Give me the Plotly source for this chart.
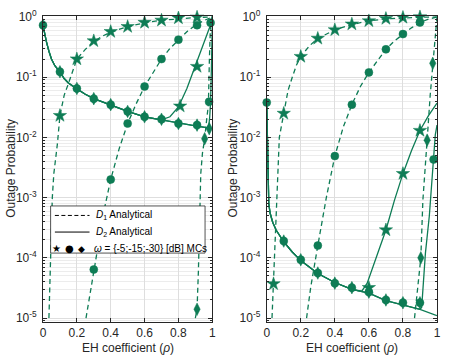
import plotly.graph_objects as go

GREEN = "#0E7C55"
TXT = "#262626"

# ---------------- left panel : analytical curves ----------------
l_d1_w5_rho = [0.035, 0.045, 0.055, 0.064, 0.075, 0.085, 0.1, 0.125, 0.15, 0.175, 0.2, 0.25, 0.3, 0.35, 0.4, 0.5, 0.6, 0.7, 0.8, 0.9, 1.0]
l_d1_w5_op = [1e-5, 1e-4, 1e-3, 2.5e-3, 4.5e-3, 7.8e-3, 0.023, 0.05, 0.078, 0.13, 0.2, 0.29, 0.39, 0.48, 0.56, 0.69, 0.8, 0.88, 0.94, 0.98, 1.0]

l_d1_w15_rho = [0.254, 0.27, 0.3, 0.33, 0.36, 0.4, 0.45, 0.5, 0.55, 0.6, 0.65, 0.7, 0.75, 0.8, 0.85, 0.9, 0.95, 1.0]
l_d1_w15_op = [1e-5, 1.9e-5, 6.4e-5, 2.1e-4, 6e-4, 2e-3, 6.5e-3, 0.017, 0.036, 0.07, 0.12, 0.2, 0.3, 0.42, 0.57, 0.73, 0.87, 1.0]

l_d1_w30_rho = [0.90, 0.91, 0.918, 0.925, 0.932, 0.942, 0.955, 0.967, 0.977, 0.983, 0.99, 1.0]
l_d1_w30_op = [1e-5, 1.4e-5, 6e-5, 4e-4, 2.5e-3, 5.5e-3, 9.5e-3, 0.02, 0.035, 0.2, 0.85, 1.0]

l_d2_w30_rho = [0.0, 0.01, 0.02, 0.035, 0.05, 0.07, 0.1, 0.125, 0.15, 0.2, 0.25, 0.3, 0.4, 0.5, 0.6, 0.7, 0.8, 0.9, 1.0]
l_d2_w30_op = [0.73, 0.52, 0.39, 0.27, 0.2, 0.155, 0.122, 0.095, 0.08, 0.064, 0.052, 0.044, 0.034, 0.027, 0.022, 0.0195, 0.0172, 0.0155, 0.014]

l_d2_w15_rho = [0.0, 0.01, 0.02, 0.035, 0.05, 0.07, 0.1, 0.125, 0.15, 0.2, 0.25, 0.3, 0.4, 0.5, 0.6, 0.7, 0.8, 0.9, 0.97, 0.98, 0.985, 0.99, 0.995, 1.0]
l_d2_w15_op = [0.73, 0.52, 0.39, 0.27, 0.2, 0.155, 0.122, 0.095, 0.08, 0.064, 0.052, 0.044, 0.034, 0.027, 0.022, 0.0195, 0.0172, 0.0155, 0.0145, 0.016, 0.022, 0.039, 0.15, 0.8]

l_d2_w5_rho = [0.0, 0.01, 0.02, 0.035, 0.05, 0.07, 0.1, 0.125, 0.15, 0.2, 0.25, 0.3, 0.4, 0.5, 0.6, 0.7, 0.75, 0.8, 0.85, 0.9, 0.95, 1.0]
l_d2_w5_op = [0.73, 0.52, 0.39, 0.27, 0.2, 0.155, 0.122, 0.095, 0.08, 0.064, 0.052, 0.044, 0.034, 0.027, 0.022, 0.0195, 0.022, 0.032, 0.065, 0.15, 0.37, 0.88]

# ---------------- left panel : Monte Carlo points ----------------
l_mc_d1_w5_rho = [0.1, 0.2, 0.3, 0.4, 0.5, 0.6, 0.7, 0.8, 0.91]
l_mc_d1_w5_op = [0.023, 0.2, 0.40, 0.57, 0.69, 0.81, 0.88, 0.96, 0.99]
l_mc_d1_w15_rho = [0.3, 0.4, 0.5, 0.6, 0.7, 0.8, 0.91, 0.99]
l_mc_d1_w15_op = [6.4e-5, 2.0e-3, 0.017, 0.07, 0.2, 0.42, 0.73, 0.8]
l_mc_d1_w30_rho = [0.91, 0.955]
l_mc_d1_w30_op = [1.4e-5, 0.0095]
l_mc_d2_w5_rho = [0.81, 0.91]
l_mc_d2_w5_op = [0.033, 0.15]
l_mc_d2_w15_rho = [0, 0.1, 0.2, 0.3, 0.4, 0.5, 0.6, 0.7, 0.8, 0.91, 0.981]
l_mc_d2_w15_op = [0.73, 0.123, 0.065, 0.044, 0.035, 0.027, 0.022, 0.020, 0.017, 0.016, 0.039]
l_mc_d2_w30_rho = [0, 0.1, 0.2, 0.3, 0.4, 0.5, 0.6, 0.7, 0.8, 0.91, 0.982]
l_mc_d2_w30_op = [0.73, 0.123, 0.065, 0.044, 0.035, 0.027, 0.022, 0.020, 0.017, 0.016, 0.014]

# ---------------- right panel : analytical curves ----------------
r_d1_w5_rho = [0.031, 0.039, 0.051, 0.058, 0.064, 0.074, 0.1, 0.125, 0.15, 0.175, 0.2, 0.25, 0.3, 0.4, 0.5, 0.6, 0.7, 0.8, 0.9, 1.0]
r_d1_w5_op = [1e-5, 3.7e-5, 2e-4, 8e-4, 2.5e-3, 0.01, 0.025, 0.06, 0.1, 0.16, 0.22, 0.33, 0.44, 0.61, 0.75, 0.86, 0.93, 0.97, 0.99, 1.0]

r_d1_w15_rho = [0.234, 0.258, 0.3, 0.35, 0.4, 0.45, 0.5, 0.55, 0.6, 0.65, 0.7, 0.75, 0.8, 0.85, 0.9, 0.95, 1.0]
r_d1_w15_op = [1e-5, 3.2e-5, 1.6e-4, 1e-3, 4.9e-3, 0.015, 0.035, 0.07, 0.12, 0.19, 0.29, 0.4, 0.52, 0.66, 0.81, 0.92, 1.0]

r_d1_w30_rho = [0.868, 0.885, 0.905, 0.917, 0.93, 0.942, 0.96, 0.975, 0.99, 1.0]
r_d1_w30_op = [1e-5, 3e-5, 1e-4, 9e-4, 3.5e-3, 9e-3, 0.05, 0.17, 0.6, 1.0]

r_d2_w30_rho = [0.0, 0.003, 0.006, 0.012, 0.02, 0.035, 0.055, 0.083, 0.1, 0.15, 0.2, 0.3, 0.4, 0.5, 0.6, 0.7, 0.8, 0.9, 1.0]
r_d2_w30_op = [0.038, 0.01, 2.5e-3, 8e-4, 5.5e-4, 3.9e-4, 2.9e-4, 2.2e-4, 1.85e-4, 1.25e-4, 9e-5, 5.5e-5, 3.9e-5, 3.0e-5, 2.6e-5, 1.95e-5, 1.65e-5, 1.4e-5, 1.1e-5]

r_d2_w15_rho = [0.0, 0.003, 0.006, 0.012, 0.02, 0.035, 0.055, 0.083, 0.1, 0.15, 0.2, 0.3, 0.4, 0.5, 0.6, 0.7, 0.8, 0.9, 0.91, 0.917, 0.932, 0.955, 0.981, 0.99, 1.0]
r_d2_w15_op = [0.038, 0.01, 2.5e-3, 8e-4, 5.5e-4, 3.9e-4, 2.9e-4, 2.2e-4, 1.85e-4, 1.25e-4, 9e-5, 5.5e-5, 3.9e-5, 3.0e-5, 2.6e-5, 1.95e-5, 1.65e-5, 1.4e-5, 1.5e-5, 2.8e-5, 1.2e-4, 5e-4, 4.3e-3, 0.011, 0.016]

r_d2_w5_rho = [0.0, 0.003, 0.006, 0.012, 0.02, 0.035, 0.055, 0.083, 0.1, 0.15, 0.2, 0.3, 0.4, 0.5, 0.558, 0.59, 0.616, 0.635, 0.655, 0.7, 0.75, 0.8, 0.85, 0.9, 0.95, 1.0]
r_d2_w5_op = [0.038, 0.01, 2.5e-3, 8e-4, 5.5e-4, 3.9e-4, 2.9e-4, 2.2e-4, 1.85e-4, 1.25e-4, 9e-5, 5.5e-5, 3.9e-5, 3.0e-5, 2.8e-5, 3.8e-5, 6e-5, 9e-5, 1.26e-4, 2.9e-4, 9e-4, 2.5e-3, 6e-3, 0.013, 0.023, 0.037]

# ---------------- right panel : Monte Carlo points ----------------
r_mc_d1_w5_rho = [0.04, 0.1, 0.2, 0.3, 0.4, 0.5, 0.6, 0.7, 0.8, 0.9]
r_mc_d1_w5_op = [3.7e-5, 0.025, 0.22, 0.44, 0.61, 0.76, 0.86, 0.94, 0.98, 1.0]
r_mc_d1_w15_rho = [0.3, 0.4, 0.5, 0.6, 0.7, 0.8, 0.9]
r_mc_d1_w15_op = [1.6e-4, 4.9e-3, 0.035, 0.12, 0.29, 0.52, 0.81]
r_mc_d1_w30_rho = [0.905, 0.942, 0.975]
r_mc_d1_w30_op = [1e-4, 9e-3, 0.17]
r_mc_d2_w5_rho = [0.6, 0.7, 0.8, 0.9]
r_mc_d2_w5_op = [3.2e-5, 2.9e-4, 2.5e-3, 0.013]
r_mc_d2_w15_rho = [0.0, 0.1, 0.2, 0.3, 0.4, 0.5, 0.6, 0.7, 0.8, 0.9, 0.98]
r_mc_d2_w15_op = [0.038, 1.9e-4, 9.3e-5, 5.6e-5, 3.8e-5, 3.2e-5, 2.7e-5, 2.0e-5, 1.8e-5, 1.8e-5, 4.3e-3]
r_mc_d2_w30_rho = [0.1, 0.2, 0.3, 0.4, 0.5, 0.6, 0.7, 0.8, 0.9]
r_mc_d2_w30_op = [1.9e-4, 9.3e-5, 5.6e-5, 3.8e-5, 3.2e-5, 2.7e-5, 2.0e-5, 1.8e-5, 1.8e-5]

y_ticks = [1e-5, 1e-4, 1e-3, 1e-2, 1e-1, 1]
y_ticktext = ["10<sup>-5</sup>", "10<sup>-4</sup>", "10<sup>-3</sup>", "10<sup>-2</sup>", "10<sup>-1</sup>", "10<sup>0</sup>"]
x_ticks = [0, 0.2, 0.4, 0.6, 0.8, 1]
x_ticktext = ["0", "0.2", "0.4", "0.6", "0.8", "1"]

DASH = "5px,3.5px"


def line(x, y, dash, ax):
    return go.Scatter(x=x, y=y, mode="lines", line=dict(color=GREEN, width=1.3, dash=dash),
                      xaxis="x" + ax, yaxis="y" + ax, showlegend=False, hoverinfo="skip")


def marks(x, y, sym, size, ax):
    return go.Scatter(x=x, y=y, mode="markers", cliponaxis=False,
                      marker=dict(symbol=sym, size=size, color=GREEN, line=dict(color=GREEN, width=0.5)),
                      xaxis="x" + ax, yaxis="y" + ax, showlegend=False)


fig = go.Figure()

# left
for x, y, d in [(l_d1_w5_rho, l_d1_w5_op, DASH), (l_d1_w15_rho, l_d1_w15_op, DASH), (l_d1_w30_rho, l_d1_w30_op, DASH),
                (l_d2_w5_rho, l_d2_w5_op, "solid"), (l_d2_w15_rho, l_d2_w15_op, "solid"), (l_d2_w30_rho, l_d2_w30_op, "solid")]:
    fig.add_trace(line(x, y, d, ""))
fig.add_trace(marks(l_mc_d1_w5_rho, l_mc_d1_w5_op, "star", 10, ""))
fig.add_trace(marks(l_mc_d2_w5_rho, l_mc_d2_w5_op, "star", 10, ""))
fig.add_trace(marks(l_mc_d1_w15_rho, l_mc_d1_w15_op, "circle", 8, ""))
fig.add_trace(marks(l_mc_d2_w15_rho, l_mc_d2_w15_op, "circle", 8, ""))
fig.add_trace(marks(l_mc_d1_w30_rho, l_mc_d1_w30_op, "diamond-tall", 9, ""))
fig.add_trace(marks(l_mc_d2_w30_rho, l_mc_d2_w30_op, "diamond-tall", 9, ""))

# right
for x, y, d in [(r_d1_w5_rho, r_d1_w5_op, DASH), (r_d1_w15_rho, r_d1_w15_op, DASH), (r_d1_w30_rho, r_d1_w30_op, DASH),
                (r_d2_w5_rho, r_d2_w5_op, "solid"), (r_d2_w15_rho, r_d2_w15_op, "solid"), (r_d2_w30_rho, r_d2_w30_op, "solid")]:
    fig.add_trace(line(x, y, d, "2"))
fig.add_trace(marks(r_mc_d1_w5_rho, r_mc_d1_w5_op, "star", 10, "2"))
fig.add_trace(marks(r_mc_d2_w5_rho, r_mc_d2_w5_op, "star", 10, "2"))
fig.add_trace(marks(r_mc_d1_w15_rho, r_mc_d1_w15_op, "circle", 8, "2"))
fig.add_trace(marks(r_mc_d2_w15_rho, r_mc_d2_w15_op, "circle", 8, "2"))
fig.add_trace(marks(r_mc_d1_w30_rho, r_mc_d1_w30_op, "diamond-tall", 9, "2"))
fig.add_trace(marks(r_mc_d2_w30_rho, r_mc_d2_w30_op, "diamond-tall", 9, "2"))

W, H = 449, 357
ML, MR, MT, MB = 43, 8, 9, 35


def px(xp):
    return (xp - ML) / (W - ML - MR)


def py(yp):
    return (H - MB - yp) / (H - MT - MB)


font = dict(family="Liberation Sans, Arial, sans-serif", size=12, color=TXT)
xax = dict(range=[0, 1], tickvals=x_ticks, ticktext=x_ticktext, ticks="inside", ticklen=4,
           tickcolor=TXT, showline=True, linecolor=TXT, linewidth=0.8, mirror="ticks",
           showgrid=True, gridcolor="#dedede", gridwidth=0.8, zeroline=False, tickfont=font)
minor_vals = [m * 10 ** e for e in range(-6, 1) for m in range(2, 10)]
yax = dict(type="log", range=[-5.065, 0.016], tickvals=y_ticks, ticktext=y_ticktext, ticks="inside",
           ticklen=4, tickcolor=TXT, showline=True, linecolor=TXT, linewidth=0.8, mirror="ticks",
           showgrid=True, gridcolor="#dedede", gridwidth=0.8, zeroline=False, tickfont=font,
           ticklabelstandoff=3, ticklabeloverflow="allow",
           minor=dict(tickmode="array", tickvals=minor_vals, ticks="inside", ticklen=2, tickcolor=TXT,
                      showgrid=True, gridcolor="#ececec", gridwidth=0.7))

fig.update_layout(
    width=W, height=H, margin=dict(l=ML, r=MR, t=MT, b=MB),
    paper_bgcolor="white", plot_bgcolor="white", showlegend=False, font=font,
    xaxis=dict(xax, domain=[0, px(214)], anchor="y"),
    yaxis=dict(yax, domain=[0, 1], anchor="x"),
    xaxis2=dict(xax, domain=[px(269), 1], anchor="y2"),
    yaxis2=dict(yax, domain=[0, 1], anchor="x2"),
)


def note(text, xp, yp, f, xanchor="center", angle=0):
    return dict(text=text, x=px(xp), y=py(yp), xref="paper", yref="paper", showarrow=False,
                xanchor=xanchor, yanchor="middle", textangle=angle, font=f)


ann = []
# axis titles
for xc in [10, 234]:
    ann.append(note("Outage Probability", xc, 165, font, angle=-90))
for xc in [128.5, 355]:
    ann.append(note("EH coefficient (<i>ρ</i>)", xc, 349, font))

# legend (drawn by hand, inside left panel)
lfont = dict(family="Liberation Sans, Arial, sans-serif", size=10, color="black")
shapes = [dict(type="rect", xref="paper", yref="paper", x0=px(50.7), x1=px(206.7), y0=py(251.5), y1=py(203.3),
               fillcolor="white", line=dict(color=TXT, width=0.8), layer="above"),
          dict(type="line", xref="paper", yref="paper", x0=px(55), x1=px(90), y0=py(213), y1=py(213),
               line=dict(color="black", width=1, dash="4px,2.5px"), layer="above"),
          dict(type="line", xref="paper", yref="paper", x0=px(55), x1=px(90), y0=py(230), y1=py(230),
               line=dict(color="black", width=1), layer="above")]
ann.append(note("<i>D</i><sub>1</sub> Analytical", 95, 213, lfont, xanchor="left"))
ann.append(note("<i>D</i><sub>2</sub> Analytical", 95, 230, lfont, xanchor="left"))
ann.append(note("<i>ω</i> = {-5;-15;-30} [dB] MCs", 93, 247, lfont, xanchor="left"))
for xc, g, s in [(56.7, "★", 10), (70, "●", 10), (82.3, "◆", 9)]:
    ann.append(note(g, xc, 247, dict(family="DejaVu Sans", size=s, color="black")))

fig.update_layout(annotations=ann, shapes=shapes)

# the page body has a default 8 px margin; remove it so the figure sits at the window corner
fig.write_html("out.html", config={"displayModeBar": False},
               post_script="document.body.style.margin = '0px';")
